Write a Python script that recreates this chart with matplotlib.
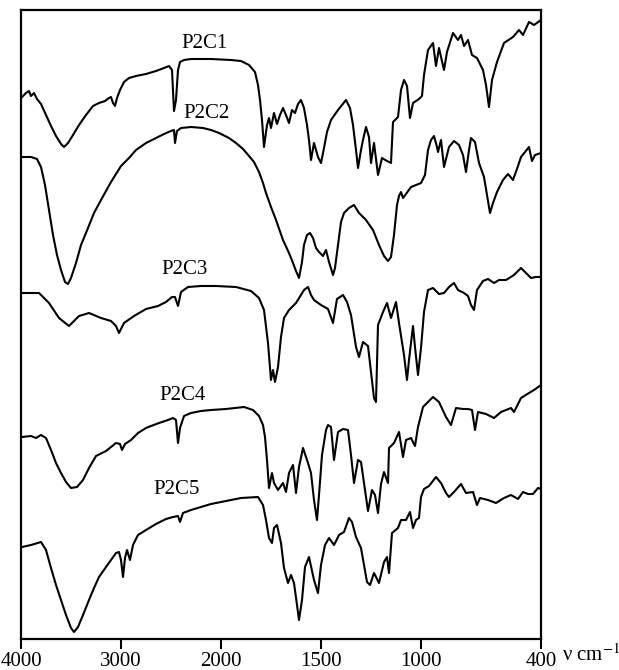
import numpy as np
import matplotlib
matplotlib.use('Agg')
from matplotlib import pyplot as plt

plt.rcParams['font.family'] = ['Liberation Serif', 'DejaVu Serif']
plt.rcParams['mathtext.fontset'] = 'stix'

# Espectros IR (número de onda en cm-1, transmitancia relativa desplazada)
w_p2c1 = [3990, 3950, 3920, 3900, 3870, 3840, 3800, 3750, 3700, 3650, 3600, 3570, 3530, 3480, 3420,
          3350, 3280, 3220, 3160, 3120, 3100, 3080, 3060, 3040, 3010, 2970, 2920, 2850, 2750, 2650,
          2570, 2520, 2490, 2470, 2450, 2430, 2410, 2370, 2300, 2100, 1950, 1900, 1860, 1830, 1815,
          1805, 1795, 1785, 1770, 1760, 1750, 1735, 1720, 1705, 1690, 1675, 1660, 1645, 1630, 1615,
          1600, 1585, 1570, 1560, 1550, 1535, 1515, 1500, 1485, 1470, 1450, 1415, 1375, 1355, 1340,
          1325, 1315, 1300, 1290, 1275, 1260, 1250, 1235, 1215, 1195, 1170, 1150, 1140, 1115, 1100,
          1085, 1070, 1055, 1040, 1010, 995, 985, 965, 940, 925, 910, 885, 870, 840, 815,
          800, 785, 765, 745, 720, 690, 675, 660, 645, 620, 585, 540, 510, 490, 460,
          435, 400]
t_p2c1 = [542, 546, 548, 543, 546, 540, 535, 524, 513, 503, 495, 492, 496, 504, 514,
          524, 533, 536, 538, 541, 542, 536, 533, 541, 549, 557, 561, 563, 565, 568,
          571, 573, 569, 528, 539, 569, 577, 579, 580, 580, 579, 578, 574, 567, 554,
          539, 519, 492, 514, 521, 511, 526, 515, 524, 531, 524, 516, 529, 526, 535,
          539, 531, 514, 499, 479, 496, 482, 476, 491, 507, 519, 529, 539, 531, 514,
          489, 471, 489, 499, 512, 502, 476, 496, 464, 481, 478, 476, 517, 522, 549,
          559, 553, 521, 536, 540, 543, 564, 589, 596, 573, 591, 569, 587, 606, 599,
          604, 593, 599, 584, 581, 569, 554, 532, 559, 577, 596, 602, 609, 604, 617,
          614, 619]

w_p2c2 = [3990, 3900, 3840, 3800, 3760, 3720, 3680, 3640, 3600, 3560, 3530, 3500, 3450, 3400, 3330,
          3270, 3200, 3100, 3000, 2920, 2850, 2750, 2650, 2570, 2500, 2470, 2460, 2440, 2400, 2300,
          2180, 2100, 2020, 1960, 1925, 1890, 1860, 1835, 1810, 1790, 1775, 1750, 1725, 1690, 1660,
          1640, 1625, 1610, 1595, 1585, 1570, 1555, 1540, 1525, 1510, 1490, 1475, 1460, 1440, 1430,
          1415, 1400, 1385, 1360, 1335, 1310, 1275, 1240, 1210, 1185, 1165, 1150, 1135, 1120, 1110,
          1100, 1090, 1075, 1050, 1000, 980, 965, 950, 935, 920, 915, 900, 885, 860, 835,
          810, 790, 775, 760, 750, 730, 710, 685, 670, 655, 640, 620, 590, 565, 540,
          515, 500, 480, 460, 445, 430, 400]
t_p2c2 = [482, 482, 480, 472, 454, 429, 404, 384, 369, 357, 355, 361, 376, 394, 411,
          426, 439, 457, 473, 481, 489, 496, 501, 505, 508, 509, 496, 508, 511, 512,
          511, 509, 506, 501, 496, 490, 483, 477, 467, 456, 446, 432, 419, 399, 386,
          376, 368, 361, 377, 394, 404, 406, 401, 391, 387, 383, 389, 377, 364, 371,
          394, 417, 426, 431, 434, 426, 419, 409, 394, 383, 378, 382, 404, 434, 443,
          447, 441, 445, 452, 456, 464, 489, 499, 503, 492, 487, 499, 472, 492, 498,
          494, 484, 467, 489, 501, 497, 476, 462, 444, 426, 436, 447, 459, 465, 459,
          473, 482, 487, 492, 478, 484, 486]

w_p2c3 = [4000, 3820, 3720, 3620, 3520, 3420, 3320, 3200, 3100, 3050, 3020, 2970, 2870, 2750, 2630,
          2550, 2490, 2460, 2430, 2400, 2330, 2200, 2050, 1925, 1850, 1810, 1785, 1765, 1750, 1740,
          1730, 1715, 1700, 1685, 1660, 1625, 1585, 1565, 1550, 1535, 1500, 1465, 1440, 1420, 1390,
          1370, 1350, 1325, 1310, 1290, 1265, 1250, 1235, 1225, 1215, 1190, 1170, 1150, 1125, 1110,
          1085, 1070, 1060, 1040, 1030, 1015, 1000, 985, 965, 940, 910, 885, 860, 835, 815,
          785, 765, 750, 735, 720, 690, 665, 635, 610, 575, 535, 500, 475, 450, 425,
          400]
t_p2c3 = [346, 346, 336, 321, 313, 323, 326, 321, 318, 313, 306, 316, 323, 330, 333,
          337, 342, 342, 333, 347, 352, 353, 353, 352, 348, 341, 329, 296, 259, 269,
          257, 272, 302, 321, 329, 336, 349, 352, 344, 339, 334, 330, 316, 340, 344,
          337, 324, 292, 282, 297, 293, 267, 241, 237, 314, 327, 336, 321, 337, 316,
          284, 259, 279, 313, 292, 264, 291, 327, 349, 351, 345, 346, 352, 356, 349,
          346, 343, 334, 329, 349, 358, 360, 356, 359, 359, 364, 371, 366, 361, 362,
          362]

w_p2c4 = [3990, 3900, 3850, 3800, 3750, 3700, 3650, 3600, 3550, 3500, 3440, 3380, 3320, 3250, 3150,
          3050, 3010, 2990, 2960, 2900, 2830, 2750, 2700, 2620, 2530, 2480, 2450, 2430, 2410, 2370,
          2300, 2200, 2100, 1975, 1885, 1840, 1810, 1790, 1780, 1770, 1760, 1745, 1735, 1715, 1690,
          1675, 1660, 1640, 1625, 1610, 1590, 1565, 1550, 1535, 1520, 1510, 1495, 1475, 1465, 1450,
          1435, 1415, 1390, 1365, 1350, 1335, 1315, 1300, 1280, 1265, 1245, 1230, 1215, 1200, 1185,
          1165, 1160, 1135, 1110, 1090, 1075, 1050, 1030, 1015, 990, 940, 910, 875, 850, 825,
          790, 765, 745, 730, 715, 675, 635, 600, 550, 535, 500, 460, 435, 400]
t_p2c4 = [202, 203, 201, 204, 201, 189, 176, 166, 157, 151, 152, 159, 171, 183, 188,
          196, 195, 189, 195, 199, 206, 211, 213, 216, 219, 221, 219, 196, 211, 223,
          226, 228, 229, 230, 232, 229, 223, 214, 202, 179, 151, 166, 156, 149, 156,
          147, 166, 174, 146, 172, 191, 176, 166, 139, 119, 144, 184, 209, 214, 212,
          179, 207, 210, 209, 184, 156, 179, 177, 149, 128, 149, 144, 126, 155, 167,
          156, 191, 196, 207, 182, 199, 201, 193, 212, 232, 242, 237, 222, 214, 231,
          230, 230, 229, 209, 227, 225, 221, 227, 231, 227, 241, 246, 249, 254]

w_p2c5 = [3990, 3900, 3800, 3750, 3700, 3650, 3600, 3550, 3500, 3470, 3430, 3380, 3320, 3270, 3220,
          3150, 3100, 3050, 3020, 3000, 2980, 2960, 2940, 2910, 2880, 2830, 2750, 2650, 2550, 2480,
          2430, 2410, 2380, 2300, 2200, 2100, 2000, 1950, 1900, 1815, 1790, 1775, 1760, 1745, 1735,
          1720, 1700, 1685, 1665, 1650, 1635, 1620, 1610, 1595, 1580, 1560, 1535, 1515, 1500, 1480,
          1460, 1435, 1410, 1385, 1360, 1345, 1325, 1300, 1285, 1270, 1255, 1235, 1210, 1185, 1170,
          1160, 1145, 1115, 1100, 1075, 1055, 1040, 1025, 1010, 1000, 985, 960, 925, 900, 875,
          860, 835, 800, 775, 740, 720, 705, 665, 625, 585, 550, 515, 490, 465, 440,
          415, 400]
t_p2c5 = [92, 94, 97, 89, 71, 54, 39, 24, 11, 7, 12, 24, 39, 51, 62,
          72, 79, 86, 87, 79, 62, 81, 89, 79, 94, 104, 109, 115, 120, 122,
          123, 117, 126, 129, 132, 135, 137, 139, 141, 142, 134, 119, 101, 96, 111,
          114, 96, 71, 56, 64, 56, 34, 19, 39, 72, 82, 59, 46, 74, 94,
          101, 94, 104, 107, 121, 117, 102, 91, 74, 57, 54, 66, 56, 77, 82,
          66, 106, 111, 119, 119, 127, 111, 119, 121, 142, 150, 153, 162, 156, 146,
          142, 147, 155, 146, 147, 134, 141, 139, 136, 141, 144, 140, 147, 145, 145,
          151, 150]

spectra = [('P2C1', w_p2c1, t_p2c1), ('P2C2', w_p2c2, t_p2c2), ('P2C3', w_p2c3, t_p2c3),
           ('P2C4', w_p2c4, t_p2c4), ('P2C5', w_p2c5, t_p2c5)]

# Posición de las etiquetas (número de onda, altura)
label_pos = {'P2C1': (2160, 596), 'P2C2': (2150, 526), 'P2C3': (2360, 369),
             'P2C4': (2380, 244), 'P2C5': (2440, 149)}

tick_values = [4000, 3000, 2000, 1500, 1000, 400]


# Escala con cambio de resolución a 2000 cm-1 (doble por debajo)
def forward(w):
    w = np.asarray(w, dtype=float)
    return np.where(w >= 2000, w, 2 * w - 2000)


def inverse(u):
    u = np.asarray(u, dtype=float)
    return np.where(u >= 2000, u, (u + 2000) / 2)


fig = plt.figure(figsize=(6.19, 6.70), dpi=100)
ax = fig.add_axes([21 / 619, 1 - 639 / 670, 520 / 619, 629 / 670])

for name, w, t in spectra:
    ax.plot(w, t, color='black', linewidth=1.5, solid_joinstyle='round')
    lx, ly = label_pos[name]
    ax.text(lx, ly, name, fontsize=15, ha='center', va='center')

ax.set_xscale('function', functions=(forward, inverse))
ax.set_xlim(4000, 400)
ax.set_ylim(0, 629)
ax.set_xticks(tick_values)
ax.set_xticklabels([str(v) for v in tick_values])
ax.minorticks_off()
ax.set_yticks([])
ax.tick_params(axis='x', direction='out', length=7, width=1.5, labelsize=15, pad=2)
for spine in ax.spines.values():
    spine.set_linewidth(1.6)

fig.text(562 / 619, 1 - 655 / 670, r'ν cm$^{-1}$', fontsize=15, ha='left', va='center')

fig.savefig('out.png', dpi=100)
